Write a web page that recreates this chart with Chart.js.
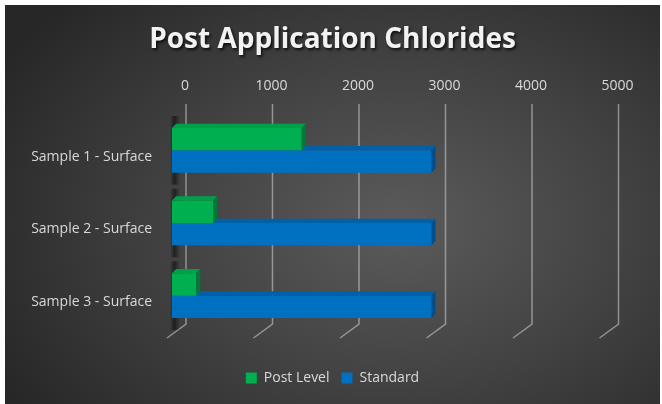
<!DOCTYPE html>
<html>
<head>
<meta charset="utf-8">
<script src="https://cdn.jsdelivr.net/npm/chart.js@4/dist/chart.umd.min.js"></script>
<style>
  html, body { margin: 0; padding: 0; background: #fff; }
  #wrap {
    position: absolute; left: 5px; top: 5px; width: 655px; height: 399px;
    background: radial-gradient(ellipse 70% 80% at 60% 55%, #5b5b5b 0%, #424242 50%, #272727 100%);
  }
</style>
</head>
<body>
<div id="wrap"><canvas id="chart"></canvas></div>
<script>
/* data */
const categories = ['Sample 1 - Surface', 'Sample 2 - Surface', 'Sample 3 - Surface'];
const postLevel = [1500, 475, 280];
const standard = [3000, 3000, 3000];
const xMin = 0, xMax = 5000, xStep = 1000;

const FONT = "'Open Sans', sans-serif";

/* back wall grid + slanted floor lines, drawn from the x scale */
const wallGrid = {
  id: 'wallGrid',
  beforeDatasetsDraw(chart) {
    const { ctx, chartArea: a, scales: { x } } = chart;
    ctx.save();
    ctx.strokeStyle = 'rgba(200,200,200,0.6)';
    ctx.lineWidth = 1.5;
    x.ticks.forEach(t => {
      const xb = x.getPixelForValue(t.value) + 14;
      ctx.beginPath();
      ctx.moveTo(xb, a.top - 10);
      ctx.lineTo(xb, a.bottom - 8);
      ctx.lineTo(xb - 19, a.bottom + 6);
      ctx.stroke();
    });
    // soft shadow on the wall behind each bar group
    const m0 = chart.getDatasetMeta(0).data, m1 = chart.getDatasetMeta(1).data;
    m0.forEach((el, i) => {
      const top = el.y - el.height / 2 - 12;
      const bot = m1[i].y + m1[i].height / 2 + 12;
      const g = ctx.createLinearGradient(a.left - 2, 0, a.left + 8, 0);
      g.addColorStop(0, 'rgba(0,0,0,0)');
      g.addColorStop(0.45, 'rgba(0,0,0,0.5)');
      g.addColorStop(1, 'rgba(0,0,0,0)');
      ctx.fillStyle = g;
      ctx.fillRect(a.left - 2, top, 10, bot - top);
    });
    ctx.restore();
  }
};

/* top and side faces for the 3D look */
const faces = [
  { top: '#00a04a', side: '#007a38' },
  { top: '#0060a8', side: '#004f8c' }
];
const bar3d = {
  id: 'bar3d',
  afterDatasetDraw(chart, args) {
    const { ctx } = chart;
    const f = faces[args.index];
    const dx = 4, dy = 4.3;
    ctx.save();
    args.meta.data.forEach(el => {
      const { x, y, base, height } = el.getProps(['x', 'y', 'base', 'height'], true);
      const t = y - height / 2, b = y + height / 2;
      ctx.fillStyle = f.top;
      ctx.beginPath();
      ctx.moveTo(base, t); ctx.lineTo(x, t); ctx.lineTo(x + dx, t - dy); ctx.lineTo(base + dx, t - dy);
      ctx.closePath(); ctx.fill();
      ctx.fillStyle = f.side;
      ctx.beginPath();
      ctx.moveTo(x, t); ctx.lineTo(x + dx, t - dy); ctx.lineTo(x + dx, b - dy); ctx.lineTo(x, b);
      ctx.closePath(); ctx.fill();
    });
    ctx.restore();
  }
};

/* drop shadow under the title text only */
const titleShadow = {
  id: 'titleShadow',
  afterInit(chart) {
    const tb = chart.titleBlock;
    const draw = tb.draw.bind(tb);
    tb.draw = function () {
      const ctx = chart.ctx;
      ctx.save();
      ctx.shadowColor = 'rgba(0,0,0,0.75)';
      ctx.shadowBlur = 3;
      ctx.shadowOffsetX = 1.5;
      ctx.shadowOffsetY = 2;
      draw();
      ctx.restore();
    };
  }
};

new Chart(document.getElementById('chart'), {
  type: 'bar',
  data: {
    labels: categories,
    datasets: [
      { label: 'Post Level', data: postLevel, backgroundColor: '#00b050' },
      { label: 'Standard', data: standard, backgroundColor: '#0070c0' }
    ]
  },
  options: {
    indexAxis: 'y',
    responsive: true,
    maintainAspectRatio: false,
    animation: false,
    layout: { padding: { left: 0, right: 0, top: 0, bottom: 9 } },
    datasets: { bar: { categoryPercentage: 0.615, barPercentage: 1 } },
    scales: {
      x: {
        position: 'top',
        min: xMin, max: xMax,
        grid: { display: false, drawTicks: false },
        border: { display: false },
        ticks: {
          stepSize: xStep, color: '#d9d9d9', font: { family: FONT, size: 14 }, padding: 20, labelOffset: 13,
          callback: v => String(v)
        },
        afterFit(s) { s.height = 49.4; }
      },
      y: {
        grid: { display: false, drawTicks: false },
        border: { display: false },
        ticks: { color: '#d9d9d9', font: { family: FONT, size: 14 }, padding: 20, labelOffset: 6.5 },
        afterFit(s) { s.width = 167; }
      },
      // empty right axis keeps room for the perspective wall
      yRight: {
        type: 'category',
        position: 'right',
        labels: categories,
        grid: { display: false, drawTicks: false },
        border: { display: false },
        ticks: { display: false },
        afterFit(s) { s.width = 55.5; }
      }
    },
    plugins: {
      title: {
        display: true,
        text: 'Post Application Chlorides',
        color: '#f2f2f2',
        font: { family: FONT, size: 28, weight: 'bold' },
        padding: { top: 18, bottom: 8 }
      },
      legend: {
        position: 'bottom',
        title: { display: true, text: '', font: { size: 10 }, padding: { top: 0, bottom: 15 } },
        labels: { color: '#d9d9d9', font: { family: FONT, size: 14 }, boxWidth: 11, boxHeight: 11, padding: 12 }
      },
      tooltip: { enabled: false }
    }
  },
  plugins: [wallGrid, bar3d, titleShadow]
});
</script>
</body>
</html>
